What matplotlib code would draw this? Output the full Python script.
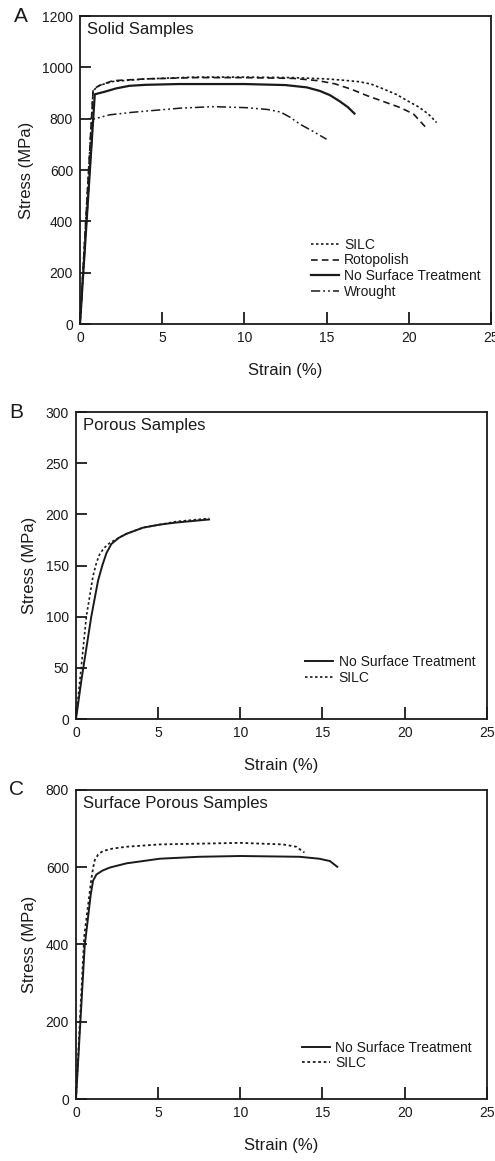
import matplotlib
matplotlib.use("Agg")
import matplotlib.pyplot as plt

plt.rcParams['font.family'] = ['Liberation Sans', 'DejaVu Sans']

# ---- Panel A: solid samples (strain %, stress MPa)
a_silc_x = [0, 0.8, 1.2, 2, 4, 7, 10, 13, 15, 16, 17, 17.7, 18.5, 19.3, 20, 20.6, 21.2, 21.7]
a_silc_y = [0, 910, 930, 945, 955, 962, 962, 960, 955, 950, 944, 935, 915, 893, 867, 846, 818, 785]
a_roto_x = [0, 0.8, 1.2, 2, 4, 7, 10, 13, 14.5, 15.5, 16.5, 17.5, 18.5, 19.5, 20.3, 21]
a_roto_y = [0, 915, 930, 948, 955, 960, 960, 957, 948, 936, 915, 889, 866, 843, 818, 769]
a_none_x = [0, 0.9, 1.5, 2.2, 3, 4, 6, 10, 12.5, 13.8, 14.6, 15.2, 15.8, 16.3, 16.7]
a_none_y = [0, 895, 905, 918, 928, 932, 935, 935, 931, 922, 908, 892, 868, 845, 820]
a_wro_x = [0, 0.8, 1.8, 3.2, 6.1, 8.1, 10.1, 11.4, 12.2, 12.8, 13.4, 14.2, 15.0]
a_wro_y = [0, 798, 815, 825, 841, 847, 843, 836, 826, 805, 778, 750, 720]

# ---- Panel B: porous samples
b_none_x = [0, 0.33, 0.93, 1.34, 1.6, 1.85, 2.15, 2.6, 3.07, 4.08, 5.1, 6.1, 8.1]
b_none_y = [0, 38, 100, 135, 150, 162, 171, 177, 181, 187, 190, 192, 195]
b_silc_x = [0, 0.22, 0.63, 1.04, 1.25, 1.44, 1.7, 2.05, 2.6, 3.07, 4.08, 5.1, 6.1, 8.1]
b_silc_y = [0, 35, 100, 140, 153, 161, 167, 172, 177, 181, 187, 190, 193, 196]

# ---- Panel C: surface porous samples
c_none_x = [0, 0.53, 0.9, 1.04, 1.24, 1.6, 2.05, 3.07, 5.1, 7.5, 10, 13.6, 14.8, 15.45, 15.9]
c_none_y = [0, 396, 530, 565, 581, 591, 599, 610, 622, 627, 629, 627, 622, 616, 601]
c_silc_x = [0, 0.5, 0.93, 1.05, 1.14, 1.35, 1.64, 2.2, 3.07, 5.1, 10, 12.6, 13.4, 13.9]
c_silc_y = [0, 420, 568, 600, 618, 633, 642, 648, 653, 659, 663, 659, 653, 638]

ink = '#1a1a1a'
dot = (0, (1.5, 1.5))
dash = (0, (4, 2.5))
dashdot = (0, (6, 2, 1.2, 2, 1.2, 2))

fig = plt.figure(figsize=(4.95, 11.61), dpi=100)
ax_a = fig.add_axes([0.1616, 0.7209, 0.830, 0.2653])
ax_b = fig.add_axes([0.1535, 0.3807, 0.830, 0.2644])
ax_c = fig.add_axes([0.1535, 0.0534, 0.830, 0.2662])


def style(ax, ymax, ystep, letter, title):
    ax.set_xlim(0, 25)
    ax.set_ylim(0, ymax)
    ax.set_xticks(range(0, 26, 5))
    ax.set_yticks(range(0, ymax + 1, ystep))
    ax.tick_params(direction='in', length=9, width=1.3, labelsize=10,
                   colors=ink, pad=5)
    ax.tick_params(axis='y', length=8)
    for s in ax.spines.values():
        s.set_linewidth(1.3)
        s.set_color(ink)
    ax.set_xlabel('Strain (%)', fontsize=12, color=ink, labelpad=13)
    ax.set_ylabel('Stress (MPa)', fontsize=12, color=ink, labelpad=6)
    ax.text(0.016, 0.98, title, transform=ax.transAxes, fontsize=12,
            va='top', ha='left', color=ink)
    ax.text(-0.145, 1.0, letter, transform=ax.transAxes, fontsize=15,
            va='center', ha='center', color=ink)


style(ax_a, 1200, 200, 'A', 'Solid Samples')
ax_a.plot(a_silc_x, a_silc_y, color=ink, lw=1.2, ls=dot, label='SILC')
ax_a.plot(a_roto_x, a_roto_y, color=ink, lw=1.2, ls=dash, label='Rotopolish')
ax_a.plot(a_none_x, a_none_y, color=ink, lw=1.6, ls='-', label='No Surface Treatment')
ax_a.plot(a_wro_x, a_wro_y, color=ink, lw=1.1, ls=dashdot, label='Wrought')
ax_a.legend(loc='upper left', bbox_to_anchor=(0.562, 0.28), frameon=False,
            fontsize=10, handlelength=2.0, handletextpad=0.4,
            labelspacing=0.12, borderpad=0, borderaxespad=0, labelcolor=ink)

style(ax_b, 300, 50, 'B', 'Porous Samples')
ax_b.plot(b_none_x, b_none_y, color=ink, lw=1.4, ls='-', label='No Surface Treatment')
ax_b.plot(b_silc_x, b_silc_y, color=ink, lw=1.2, ls=dot, label='SILC')
ax_b.legend(loc='upper left', bbox_to_anchor=(0.558, 0.208), frameon=False,
            fontsize=10, handlelength=2.0, handletextpad=0.4,
            labelspacing=0.12, borderpad=0, borderaxespad=0, labelcolor=ink)

style(ax_c, 800, 200, 'C', 'Surface Porous Samples')
ax_c.plot(c_none_x, c_none_y, color=ink, lw=1.4, ls='-', label='No Surface Treatment')
ax_c.plot(c_silc_x, c_silc_y, color=ink, lw=1.3, ls=dot, label='SILC')
ax_c.legend(loc='upper left', bbox_to_anchor=(0.55, 0.189), frameon=False,
            fontsize=10, handlelength=2.0, handletextpad=0.4,
            labelspacing=0.12, borderpad=0, borderaxespad=0, labelcolor=ink)

fig.savefig('out.png', dpi=100)
